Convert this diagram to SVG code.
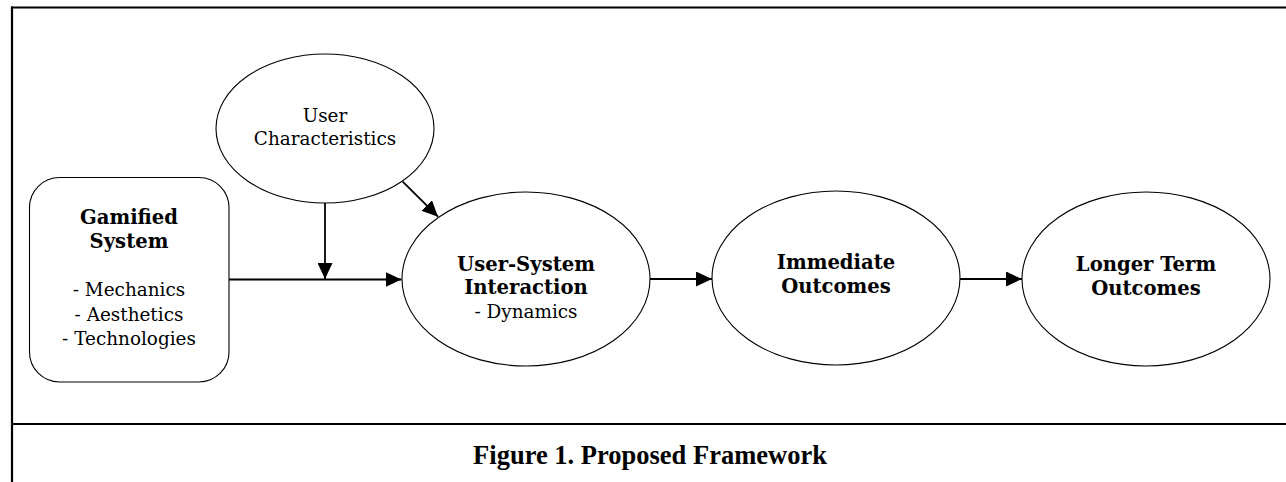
<svg xmlns="http://www.w3.org/2000/svg" width="1286" height="482" viewBox="0 0 1286 482">
<style>
.frame{stroke:#000;stroke-width:2.2;fill:none}
.shape{fill:#fff;stroke:#000;stroke-width:1.1}
.t{font-family:"DejaVu Serif","Liberation Serif",serif;font-size:18.4px;fill:#000;text-anchor:middle}
.b{font-weight:bold;font-size:19.6px}
.cap{font-family:"Liberation Serif","Times New Roman",serif;font-size:26.5px;font-weight:bold;fill:#000;text-anchor:middle}
.conn{stroke:#000;stroke-width:1.8;fill:none}
</style>
<defs>
<marker id="arr" markerUnits="userSpaceOnUse" markerWidth="16" markerHeight="15" refX="16" refY="7.5" orient="auto">
<path d="M0,0 L16,7.5 L0,15 z" fill="#000"/>
</marker>
</defs>
<rect width="1286" height="482" fill="#fff"/>
<g id="frame">
<line class="frame" x1="12" y1="6.5" x2="12" y2="482"/>
<line class="frame" x1="11" y1="7.5" x2="1286" y2="7.5"/>
<line class="frame" x1="12" y1="424" x2="1286" y2="424"/>
</g>
<g id="connectors">
<line class="conn" x1="229" y1="279.5" x2="401.5" y2="279.5" marker-end="url(#arr)"/>
<line class="conn" x1="325" y1="203" x2="325" y2="279" marker-end="url(#arr)"/>
<line class="conn" x1="402.7" y1="181.7" x2="438" y2="216.7" marker-end="url(#arr)"/>
<line class="conn" x1="650" y1="279" x2="712" y2="279" marker-end="url(#arr)"/>
<line class="conn" x1="960" y1="279" x2="1022" y2="279" marker-end="url(#arr)"/>
</g>
<g id="gamified">
<rect class="shape" x="29.5" y="177.5" width="199.5" height="204.5" rx="30" ry="30"/>
<text class="t b" x="129" y="224">Gamified</text>
<text class="t b" x="129" y="248">System</text>
<text class="t" x="129" y="296">- Mechanics</text>
<text class="t" x="129" y="321">- Aesthetics</text>
<text class="t" x="129" y="345">- Technologies</text>
</g>
<g id="user-characteristics">
<ellipse class="shape" cx="325" cy="128.5" rx="109" ry="74.5"/>
<text class="t" x="325" y="122">User</text>
<text class="t" x="325" y="145">Characteristics</text>
</g>
<g id="user-system">
<ellipse class="shape" cx="526" cy="279" rx="124" ry="87"/>
<text class="t b" x="526" y="270.5">User-System</text>
<text class="t b" x="526" y="294">Interaction</text>
<text class="t" x="526" y="318">- Dynamics</text>
</g>
<g id="immediate">
<ellipse class="shape" cx="836" cy="278" rx="124" ry="87"/>
<text class="t b" x="836" y="269">Immediate</text>
<text class="t b" x="836" y="293">Outcomes</text>
</g>
<g id="longer">
<ellipse class="shape" cx="1146" cy="279" rx="124" ry="87"/>
<text class="t b" x="1146" y="270.5">Longer Term</text>
<text class="t b" x="1146" y="295">Outcomes</text>
</g>
<g id="caption">
<text class="cap" x="650" y="464">Figure 1. Proposed Framework</text>
</g>
</svg>
